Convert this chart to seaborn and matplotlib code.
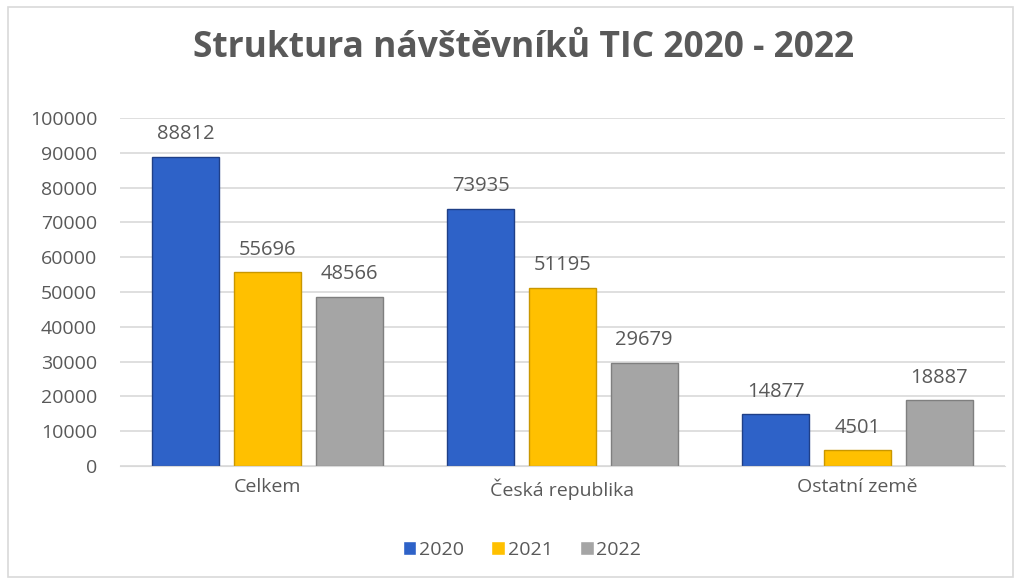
import pandas as pd
import matplotlib
matplotlib.use("Agg")
import matplotlib.pyplot as plt
import seaborn as sns
from matplotlib.patches import Rectangle

categories = ['Celkem', 'Česká republika', 'Ostatní země']
years = ['2020', '2021', '2022']
v2020 = [88812, 73935, 14877]
v2021 = [55696, 51195, 4501]
v2022 = [48566, 29679, 18887]

df = pd.DataFrame({
    'kategorie': categories * 3,
    'rok': [y for y in years for _ in categories],
    'hodnota': v2020 + v2021 + v2022,
})

sns.set_style('white')
plt.rcParams['font.family'] = ['Open Sans', 'DejaVu Sans']
txt = '#595959'
barvy = ['#2E62C8', '#FFC000', '#A5A5A5']
okraje = ['#1F3F87', '#C99700', '#7F7F7F']

fig = plt.figure(figsize=(10.21, 5.84), dpi=100)
fig.patches.append(Rectangle((8 / 1021, 7 / 584), 1005 / 1021, 570 / 584,
                             transform=fig.transFigure, fill=False,
                             edgecolor='#D9D9D9', linewidth=1.2))
ax = fig.add_axes([120 / 1021, 1 - 466 / 584, 885 / 1021, 348 / 584])

sns.barplot(data=df, x='kategorie', y='hodnota', hue='rok', palette=barvy,
            width=0.83, gap=0.18, ax=ax, legend=True, saturation=1)

for cont, ec in zip(ax.containers, okraje):
    for bar in cont:
        bar.set_edgecolor(ec)
        bar.set_linewidth(1.0)
    ax.bar_label(cont, padding=9, fontsize=14.5, color=txt)

ax.set_ylim(0, 100000)
ax.set_xlim(-0.5, 2.5)
ax.set_yticks(range(0, 100001, 10000))
ax.yaxis.grid(True, color='#D9D9D9', linewidth=1.2)
ax.set_axisbelow(True)
for s in ['top', 'right', 'left']:
    ax.spines[s].set_visible(False)
ax.spines['bottom'].set_color('#D9D9D9')
ax.tick_params(axis='both', length=0, labelsize=14, labelcolor=txt)
ax.tick_params(axis='y', pad=16.5)
ax.tick_params(axis='x', pad=9)
ax.set_xlabel('')
ax.set_ylabel('')

fig.text(524 / 1021, 1 - 48 / 584, 'Struktura návštěvníků TIC 2020 - 2022',
         ha='center', va='center', fontsize=25.5, fontweight='bold', color=txt)

handles, labels = ax.get_legend_handles_labels()
ax.legend(handles, labels, loc='center', bbox_to_anchor=(522 / 1021, 1 - 550 / 584),
          bbox_transform=fig.transFigure,
          ncol=3, frameon=False, fontsize=14, labelcolor=txt,
          handlelength=0.7, handleheight=0.7, handletextpad=0.15, columnspacing=1.4)

fig.savefig('out.png', dpi=100)
